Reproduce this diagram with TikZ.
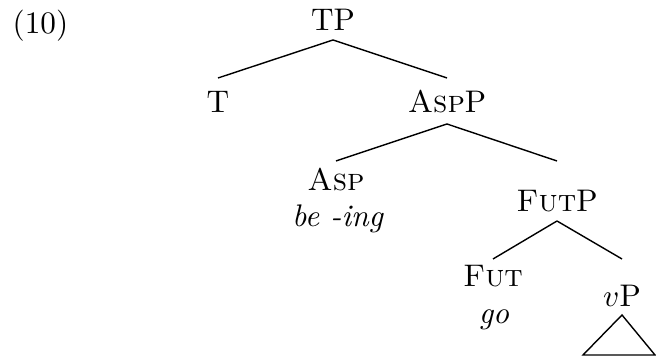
\documentclass[tikz,border=0pt]{standalone}
\newdimen\pxu \pxu=0.32pt
\tikzset{
  lab/.style={anchor=base, inner sep=0pt},
  edge/.style={draw=black, line width=0.45pt}
}
\begin{document}
\begin{tikzpicture}[x=0.32pt, y=-0.32pt]
\useasboundingbox (0,0) rectangle (656,358);
\node[lab, anchor=base west] (ex) at (12,34) {(10)};
\node[lab] (TP) at (333,31) {TP};
\node[lab] (T) at (218,113) {T};
\node[lab] (AspP) at (447,113) {\textsc{Asp}P};
\node[lab] (Asp) at (336,191) {\textsc{Asp}};
\node[lab] (Asplex) at (338,227) {\textit{be -ing}};
\node[lab] (FutP) at (557,212) {\textsc{Fut}P};
\node[lab] (Fut) at (493,287) {\textsc{Fut}};
\node[lab] (Futlex) at (494,324) {\textit{go}};
\node[lab] (vP) at (622,307) {$v$P};
% branches
\draw[edge] ([yshift=-9\pxu]TP.base) -- ([yshift=35\pxu]T.base);
\draw[edge] ([yshift=-9\pxu]TP.base) -- ([yshift=35\pxu]AspP.base);
\draw[edge] ([yshift=-11\pxu]AspP.base) -- ([yshift=30\pxu]Asp.base);
\draw[edge] ([yshift=-11\pxu]AspP.base) -- ([yshift=51\pxu]FutP.base);
\draw[edge] ([yshift=-9\pxu]FutP.base) -- ([yshift=28\pxu]Fut.base);
\draw[edge] ([yshift=-9\pxu]FutP.base) -- ([yshift=48\pxu]vP.base);
% triangle
\draw[edge, line join=miter] ([yshift=-8\pxu]vP.base) -- ++(-39,40) -- ++(72,0) -- cycle;
\end{tikzpicture}
\end{document}
